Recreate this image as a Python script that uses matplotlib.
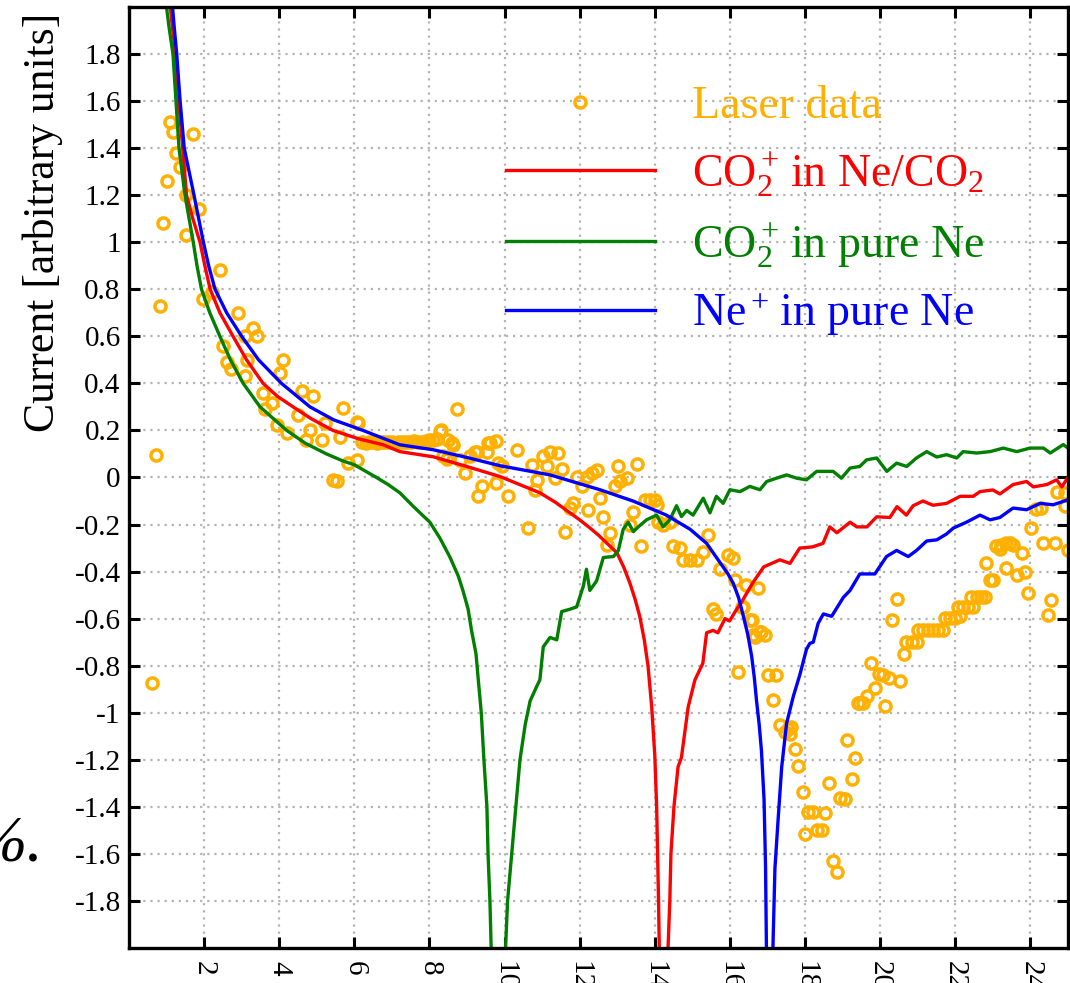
import numpy as np
import matplotlib
matplotlib.use("Agg")
import matplotlib.pyplot as plt

# fonts: Times-like serif everywhere
plt.rcParams['font.family'] = ['Liberation Serif', 'DejaVu Serif']
plt.rcParams['mathtext.fontset'] = 'custom'
plt.rcParams['mathtext.rm'] = 'Liberation Serif'
plt.rcParams['mathtext.it'] = 'Liberation Serif:italic'
plt.rcParams['axes.unicode_minus'] = False

# colours
c_laser = '#ffb000'
c_red = '#ff0000'
c_green = '#007f00'
c_blue = '#0000ff'

# laser data (open circles)
laser_x = [0.60, 0.72, 0.83, 0.91, 1.02, 1.09, 1.16, 1.25, 1.36, 1.51, 1.53, 1.71, 1.87,
           1.98, 2.20, 2.42, 2.49, 2.60, 2.71, 2.91, 3.09, 3.15, 3.31, 3.42, 3.09, 3.58,
           3.62, 3.82, 3.93, 4.02, 4.11, 4.20, 4.51, 4.60, 4.72, 4.82, 4.91, 5.13, 5.22,
           5.44, 5.53, 5.62, 5.71, 5.84, 6.06, 6.06, 6.11,
           6.20, 6.30, 6.40, 6.50, 6.60, 6.70, 6.80, 6.90, 7.00, 7.10, 7.20, 7.30, 7.40,
           7.50, 7.60, 7.70, 7.80, 7.90, 8.00, 8.10, 8.20,
           8.28, 8.50, 8.63, 8.72, 8.46, 8.81, 9.08, 8.94, 9.26, 9.52, 9.56, 9.78, 9.83,
           8.32, 8.59, 8.37, 9.21, 9.61, 9.39, 9.30, 9.77, 9.92, 10.10, 10.32, 10.63, 10.72,
           10.81, 11.03, 11.12, 11.21, 11.43, 11.52, 11.35, 10.86, 11.62, 11.74, 11.83,
           11.92, 12.05, 12.19, 12.23, 12.32, 12.45, 12.54, 12.63, 12.80, 12.72, 12.94,
           13.03, 13.07, 13.25, 13.53, 13.34, 13.42, 13.62, 13.74, 13.87, 14.00, 14.05,
           14.09, 14.22, 14.40, 14.49, 14.67, 14.76, 14.94, 15.12, 15.29, 15.42, 15.73,
           15.96, 16.09, 16.14, 16.44, 16.75, 15.56, 15.64, 16.36, 16.58, 16.80, 16.93,
           16.67, 16.22, 17.02, 17.24, 17.15, 16.31, 16.53, 16.62, 16.84,
           17.33, 17.46, 17.64, 17.60, 17.73, 17.82, 17.94, 18.09, 18.22, 18.53, 18.01,
           18.31, 18.44, 18.63, 18.75, 18.84, 18.93, 19.06, 19.12, 19.24, 19.33, 19.40,
           19.75, 19.98, 20.08, 20.24, 20.54, 19.86, 19.64, 19.44, 19.55, 20.13, 17.55,
           20.33, 20.44, 20.63, 20.70, 20.84, 20.97, 21.02, 21.15, 21.28, 21.41, 21.55,
           21.68, 21.72, 21.86, 21.99, 22.12, 22.08, 22.22, 22.35, 22.48, 22.43, 22.57,
           22.70, 22.79, 22.92, 23.01, 22.83, 23.08, 23.19, 23.23, 23.36, 23.45, 23.54,
           23.77, 23.35, 23.64, 23.86, 23.94, 24.02, 24.15, 24.28, 24.35, 24.66, 24.56,
           24.47, 24.70, 24.92, 24.92, 25.00]
laser_y = [-0.875, 0.097, 0.73, 1.08, 1.26, 1.51, 1.47, 1.38, 1.32, 1.03, 1.20, 1.46, 1.14,
           0.76, 0.79, 0.88, 0.56, 0.49, 0.46, 0.70, 0.60, 0.50, 0.635, 0.60, 0.43, 0.36,
           0.29, 0.317, 0.224, 0.444, 0.50, 0.19, 0.267, 0.366, 0.16, 0.203, 0.345, 0.16,
           0.231, -0.01, -0.017, 0.174, 0.295, 0.06, 0.075, 0.238, 0.23,
           0.150, 0.148, 0.150, 0.152, 0.148, 0.150, 0.150, 0.152, 0.150, 0.148, 0.150,
           0.152, 0.150, 0.150, 0.155, 0.152, 0.150, 0.155, 0.158, 0.160, 0.165,
           0.196, 0.16, 0.14, 0.29, 0.08, 0.075, 0.09, 0.019, 0.11, 0.11, 0.146, 0.153,
           0.06, 0.20, 0.146, 0.09, 0.11, 0.146, -0.038, -0.08, -0.024, 0.047, -0.08,
           0.118, -0.215, 0.054, -0.052, 0.09, 0.047, 0.11, 0.104, 0.036, -0.003, -0.01,
           -0.23, -0.13, -0.109, 0.004, -0.035, 0.004, -0.137, 0.019, 0.033, -0.088,
           -0.166, -0.237, -0.286, -0.038, 0.047, -0.017, -0.003, 0.058, -0.20, -0.145,
           -0.29, -0.095, -0.095, -0.095, -0.116, -0.19, -0.20, -0.19, -0.29, -0.30,
           -0.35, -0.35, -0.35, -0.315, -0.244, -0.39, -0.33, -0.343, -0.435, -0.456,
           -0.47, -0.56, -0.58, -0.55, -0.605, -0.655, -0.67, -0.68, -0.825, -0.84,
           -0.84, -0.946, -0.55, -0.606, -0.67, -0.655,
           -1.05, -1.08, -1.06, -1.09, -1.155, -1.225, -1.336, -1.424, -1.424, -1.428,
           -1.517, -1.50, -1.50, -1.30, -1.63, -1.677, -1.364, -1.367, -1.116, -1.28,
           -1.194, -0.96, -0.79, -0.835, -0.84, -0.854, -0.865, -0.896, -0.93, -0.957,
           -0.96, -0.97, -1.07, -0.606, -0.517, -0.75, -0.70, -0.70, -0.698, -0.648,
           -0.648, -0.648, -0.648, -0.648, -0.648, -0.598, -0.598, -0.598, -0.59, -0.549,
           -0.549, -0.549, -0.549, -0.506, -0.506, -0.506, -0.506, -0.435, -0.435, -0.364,
           -0.29, -0.305, -0.286, -0.28, -0.28, -0.286, -0.32, -0.386, -0.414, -0.40,
           -0.49, -0.215, -0.134, -0.13, -0.28, -0.28, -0.52, -0.584, -0.06, -0.066,
           -0.123, -0.31]

# CO2+ in Ne/CO2 (red)
red_x = [1.07, 1.15, 1.24, 1.32, 1.43, 1.53, 1.70, 1.89, 2.02, 2.16, 2.42, 2.77, 3.13,
         3.57, 3.95, 4.37, 4.85, 5.43, 6.10, 6.77, 7.21, 8.10, 8.99, 9.88, 10.40, 10.94,
         11.35, 11.74, 12.00, 12.27, 12.50, 12.73, 12.99, 13.17, 13.34, 13.48, 13.60,
         13.72, 13.82, 13.92, 14.00, 14.05, 14.10, 14.13, 14.33, 14.40, 14.43, 14.51,
         14.62, 14.71, 14.89, 15.07, 15.28, 15.38, 15.55, 15.68, 15.87, 15.99, 16.18,
         16.31, 16.60, 16.90, 17.33, 17.60, 17.86, 18.20, 18.48, 18.66, 18.85, 19.20,
         19.38, 19.65, 19.91, 20.26, 20.45, 20.70, 20.88, 21.14, 21.41, 21.77, 22.13,
         22.48, 22.66, 23.00, 23.19, 23.54, 23.90, 24.08, 24.44, 24.70, 24.84, 25.00]
red_y = [2.05, 1.92, 1.80, 1.60, 1.40, 1.20, 1.10, 1.00, 0.90, 0.80, 0.70, 0.60, 0.50,
         0.40, 0.345, 0.30, 0.25, 0.20, 0.165, 0.139, 0.11, 0.088, 0.047, 0.004, -0.03,
         -0.065, -0.105, -0.15, -0.18, -0.214, -0.245, -0.28, -0.32, -0.38, -0.45,
         -0.52, -0.59, -0.69, -0.80, -0.98, -1.18, -1.40, -1.80, -2.10, -2.10, -1.80,
         -1.60, -1.40, -1.23, -1.19, -0.975, -0.86, -0.79, -0.66, -0.65, -0.66, -0.60,
         -0.61, -0.56, -0.53, -0.45, -0.38, -0.35, -0.365, -0.30, -0.295, -0.28, -0.21,
         -0.235, -0.19, -0.21, -0.21, -0.167, -0.17, -0.124, -0.16, -0.12, -0.10,
         -0.118, -0.11, -0.08, -0.08, -0.06, -0.053, -0.07, -0.03, -0.017, -0.04, -0.03,
         -0.01, -0.04, 0.0]

# CO2+ in pure Ne (green)
green_x = [0.96, 1.06, 1.17, 1.25, 1.33, 1.49, 1.71, 1.81, 1.93, 2.15, 2.42, 2.70, 3.04,
           3.49, 4.20, 4.70, 5.26, 5.70, 6.00, 6.59, 6.90, 7.21, 7.57, 8.01, 8.28, 8.55,
           8.77, 8.89, 9.03, 9.12, 9.24, 9.30, 9.38, 9.45, 9.53, 9.56, 9.61, 9.66, 10.00,
           10.08, 10.19, 10.30, 10.41, 10.55, 10.68, 10.85, 10.94, 11.03, 11.21, 11.39,
           11.52, 11.74, 11.92, 12.10, 12.18, 12.27, 12.45, 12.63, 12.90, 13.03, 13.16,
           13.29, 13.43, 13.56, 13.78, 14.05, 14.22, 14.40, 14.58, 14.71, 14.85, 15.02,
           15.29, 15.47, 15.64, 15.82, 16.00, 16.27, 16.53, 16.80, 16.98, 17.24, 17.51,
           17.78, 18.04, 18.31, 18.75, 18.97, 19.20, 19.46, 19.64, 19.91, 20.18, 20.44,
           20.71, 20.97, 21.24, 21.51, 21.77, 22.04, 22.21, 22.57, 22.93, 23.28, 23.64,
           23.99, 24.35, 24.53, 24.88, 25.00]
green_y = [2.05, 1.92, 1.80, 1.60, 1.40, 1.20, 1.00, 0.90, 0.80, 0.70, 0.60, 0.50, 0.40,
           0.30, 0.20, 0.145, 0.10, 0.07, 0.054, 0.0, -0.03, -0.065, -0.123, -0.19, -0.258,
           -0.34, -0.42, -0.48, -0.56, -0.65, -0.75, -0.86, -1.00, -1.20, -1.40, -1.60,
           -1.80, -2.10, -2.10, -1.80, -1.60, -1.40, -1.20, -1.05, -0.95, -0.89, -0.86,
           -0.72, -0.68, -0.69, -0.57, -0.56, -0.55, -0.46, -0.39, -0.48, -0.44, -0.34,
           -0.336, -0.31, -0.22, -0.19, -0.23, -0.21, -0.18, -0.16, -0.21, -0.18, -0.12,
           -0.166, -0.14, -0.16, -0.088, -0.15, -0.08, -0.11, -0.052, -0.06, -0.038,
           -0.052, -0.017, -0.003, 0.011, -0.003, -0.01, 0.026, 0.026, -0.003, 0.04,
           0.047, 0.075, 0.083, 0.026, 0.061, 0.047, 0.083, 0.11, 0.087, 0.097, 0.083,
           0.11, 0.104, 0.11, 0.125, 0.11, 0.125, 0.125, 0.104, 0.14, 0.125]

# Ne+ in pure Ne (blue)
blue_x = [1.13, 1.20, 1.27, 1.36, 1.47, 1.73, 1.98, 2.12, 2.29, 2.60, 3.00, 3.45, 4.06,
          4.82, 5.45, 6.23, 7.21, 8.10, 9.00, 9.88, 11.21, 12.54, 13.42, 14.31, 14.94,
          15.38, 15.73, 15.95, 16.09, 16.23, 16.36, 16.48, 16.58, 16.65, 16.71, 16.78,
          16.84, 16.91, 16.95, 16.98, 17.13, 17.20, 17.29, 17.38, 17.51, 17.69, 17.86,
          18.04, 18.13, 18.22, 18.35, 18.49, 18.71, 19.02, 19.20, 19.46, 19.86, 20.17,
          20.44, 20.75, 20.97, 21.24, 21.51, 21.77, 21.95, 22.30, 22.66, 22.93, 23.19,
          23.54, 23.90, 24.26, 24.61, 25.00]
blue_y = [2.05, 1.92, 1.80, 1.60, 1.40, 1.20, 1.00, 0.90, 0.80, 0.70, 0.60, 0.50, 0.40,
          0.30, 0.245, 0.20, 0.139, 0.118, 0.085, 0.05, 0.011, -0.052, -0.10, -0.16,
          -0.22, -0.28, -0.36, -0.41, -0.45, -0.51, -0.59, -0.67, -0.76, -0.85, -0.95,
          -1.05, -1.16, -1.37, -1.66, -2.10, -2.10, -1.66, -1.44, -1.23, -1.045, -0.93,
          -0.84, -0.73, -0.705, -0.70, -0.62, -0.58, -0.59, -0.51, -0.48, -0.41, -0.41,
          -0.336, -0.31, -0.336, -0.31, -0.27, -0.265, -0.24, -0.215, -0.19, -0.16,
          -0.18, -0.17, -0.13, -0.137, -0.11, -0.116, -0.095]

x_ticks = [2, 4, 6, 8, 10, 12, 14, 16, 18, 20, 22, 24]
y_ticks = [-1.8, -1.6, -1.4, -1.2, -1, -0.8, -0.6, -0.4, -0.2, 0,
           0.2, 0.4, 0.6, 0.8, 1, 1.2, 1.4, 1.6, 1.8]
y_tick_labels = ['-1.8', '-1.6', '-1.4', '-1.2', '-1', '-0.8', '-0.6', '-0.4', '-0.2', '0',
                 '0.2', '0.4', '0.6', '0.8', '1', '1.2', '1.4', '1.6', '1.8']

fig = plt.figure(figsize=(10.7, 9.83), dpi=100)
ax = fig.add_axes([0.1206, 0.0356, 0.8774, 0.9573])

ax.plot(laser_x, laser_y, linestyle='none', marker='o', markersize=8,
        markerfacecolor='none', markeredgecolor=c_laser, markeredgewidth=2.5,
        label='Laser data')
ax.plot(red_x, red_y, color=c_red, lw=2.4, label=r'CO$_2^+\,$in Ne/CO$_2$')
ax.plot(green_x, green_y, color=c_green, lw=2.4, label=r'CO$_2^+\,$in pure Ne')
ax.plot(blue_x, blue_y, color=c_blue, lw=2.4, label=r'Ne$^+\,$in pure Ne')

ax.set_xlim(0, 25)
ax.set_ylim(-2, 2)
ax.set_xticks(x_ticks)
ax.set_xticklabels([str(t) for t in x_ticks], rotation=-90, fontsize=21)
ax.set_yticks(y_ticks)
ax.set_yticklabels(y_tick_labels, fontsize=21)
ax.tick_params(direction='in', length=8, width=2.2, top=True, right=True, pad=6)
ax.tick_params(axis='x', pad=9)
for s in ax.spines.values():
    s.set_linewidth(2.4)
ax.grid(True, color='#b4b4b4', linestyle=(0, (1, 2.2)), linewidth=1.6)
ax.set_axisbelow(True)

leg = ax.legend(loc='upper left', bbox_to_anchor=(0.401, 0.917), frameon=False,
                fontsize=33, handlelength=3.27, handletextpad=0.8, labelspacing=0.47,
                borderpad=0, borderaxespad=0, numpoints=1,
                labelcolor=[c_laser, c_red, c_green, c_blue])

fig.text(0.040, 0.774, 'Current [arbitrary units]', rotation=90, fontsize=31.5,
         ha='center', va='center')
fig.text(0.040, 0.125, '%.', fontsize=47, style='italic', ha='right', va='baseline')

fig.savefig('out.png', dpi=100)
